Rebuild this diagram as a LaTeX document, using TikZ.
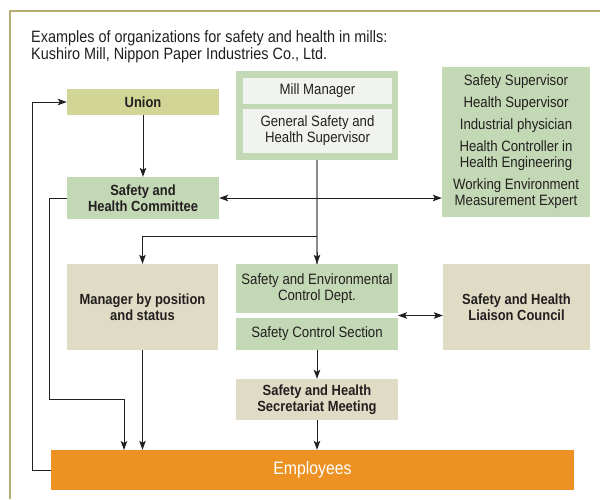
\documentclass[tikz,border=0pt]{standalone}
\usepackage{fontspec}
\setmainfont[FakeStretch=0.88]{Liberation Sans}
\usetikzlibrary{arrows.meta}
\definecolor{boxgreen}{HTML}{C3D8B5}
\definecolor{boxinner}{HTML}{F1F4EE}
\definecolor{boxunion}{HTML}{D1D596}
\definecolor{boxtan}{HTML}{DFDBC4}
\definecolor{boxorange}{HTML}{ED9122}
\definecolor{framecol}{HTML}{B5AD70}
\definecolor{txt}{HTML}{231F20}
\definecolor{grayline}{HTML}{8A8A8A}
\tikzset{
  box/.style={rectangle, inner sep=0pt, align=center, text=txt,
    font=\fontsize{15}{16}\selectfont},
  bbox/.style={box, font=\fontsize{14.7}{16}\selectfont\bfseries},
  arr/.style={draw=txt, line width=1pt, -{Stealth[length=9pt,width=6.5pt,inset=2pt]}},
  darr/.style={draw=txt, line width=1pt, {Stealth[length=9pt,width=6.5pt,inset=2pt]}-{Stealth[length=9pt,width=6.5pt,inset=2pt]}},
  gline/.style={draw=grayline, line width=1.6pt},
}
\begin{document}
\begin{tikzpicture}[x=1pt,y=-1pt]
\useasboundingbox[fill=white] (0,0) rectangle (600,499);
\draw[framecol, line width=1.3pt] (10,499) -- (10,11) -- (600,11);
\node[anchor=north west, align=left, text=txt, inner sep=0pt,
  font=\fontsize{16.4}{17.5}\selectfont] (title) at (31,30)
  {Examples of organizations for safety and health in mills:\\
   Kushiro Mill, Nippon Paper Industries Co., Ltd.};

\node[bbox, fill=boxunion, minimum width=152pt, minimum height=26pt] (union) at (143,102) {Union};
\node[box, fill=boxgreen, minimum width=162pt, minimum height=89pt] (millouter) at (317,115.5) {};
\node[box, fill=boxinner, minimum width=149pt, minimum height=26pt] (millmgr) at (317.5,91) {Mill Manager};
\node[box, fill=boxinner, minimum width=149pt, minimum height=44pt] (gensup) at (317.5,131) {General Safety and\\Health Supervisor};
\node[box, fill=boxgreen, minimum width=148pt, minimum height=150pt] (staff) at (516,142)
  {Safety Supervisor\\[6pt]Health Supervisor\\[6pt]Industrial physician\\[6pt]Health Controller in\\Health Engineering\\[6pt]Working Environment\\Measurement Expert};
\node[bbox, fill=boxgreen, minimum width=152pt, minimum height=42pt] (committee) at (143,198) {Safety and\\Health Committee};
\node[bbox, fill=boxtan, minimum width=151pt, minimum height=86pt] (mgrpos) at (142.5,307) {Manager by position\\and status};
\node[box, fill=boxgreen, minimum width=162pt, minimum height=49pt] (secd) at (317,288.5) {Safety and Environmental\\Control Dept.};
\node[box, fill=boxgreen, minimum width=162pt, minimum height=32pt] (scs) at (317,334) {Safety Control Section};
\node[bbox, fill=boxtan, minimum width=147pt, minimum height=86pt] (liaison) at (516.5,307) {Safety and Health\\Liaison Council};
\node[bbox, fill=boxtan, minimum width=162pt, minimum height=41pt] (secret) at (317,399.5) {Safety and Health\\Secretariat Meeting};
\node[box, fill=boxorange, text=white, minimum width=523pt, minimum height=40pt,
  font=\fontsize{18}{20}\selectfont] (employees) at (312.5,470) {Employees};

% connectors
\coordinate (l1) at (32,470);
\coordinate (l2) at (49,399);
\coordinate (e1) at (124,450);
\coordinate (b1) at (317,236);
\coordinate (d1) at (398,315.5);

\draw[gline] (millouter.south) -- (secd.north);
\draw[arr] (secd.north) ++(0,-12) -- (secd.north);
\draw[arr] (union.south) -- (committee.north);
\draw[arr] (employees.west) -- (l1) |- (union.west);
\draw[arr] (committee.west) -| (l2) -| (e1);
\draw[arr] (mgrpos.south) -- (mgrpos.south |- employees.north);
\draw[arr] (b1) -| (mgrpos.north);
\draw[darr] (committee.east) -- (committee.east -| staff.west);
\draw[darr] (d1) -- (d1 -| liaison.west);
\draw[arr] (scs.south) -- (secret.north);
\draw[arr] (secret.south) -- (secret.south |- employees.north);
\end{tikzpicture}
\end{document}
